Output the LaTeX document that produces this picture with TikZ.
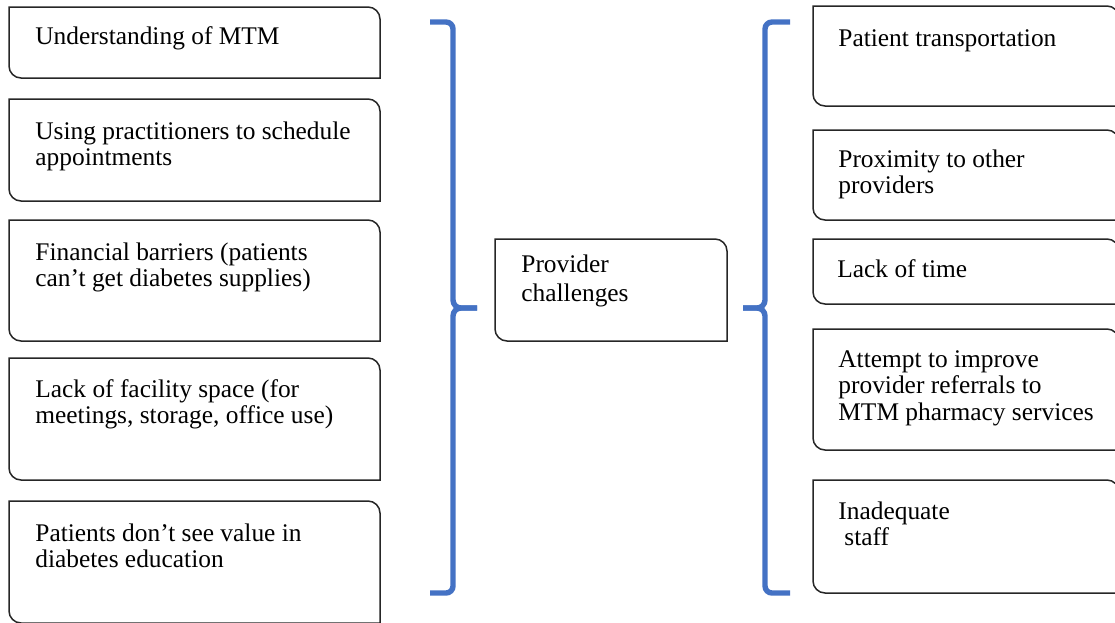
\documentclass[tikz,border=0pt]{standalone}
\usepackage{fontspec}
\setmainfont{Liberation Serif}
\usetikzlibrary{fit,calc}
\definecolor{bracecol}{HTML}{4472C4}
\definecolor{linecol}{HTML}{262626}
\tikzset{
  boxline/.style={draw=linecol,line width=0.75pt},
  holder/.style={inner sep=0pt,outer sep=0pt},
  txt/.style={inner sep=0pt,anchor=north west,align=left,
    font=\fontsize{12.7}{13.3}\selectfont,execute at begin node=\strut},
  ctxt/.style={inner sep=0pt,anchor=north west,align=left,
    font=\fontsize{12.7}{14.5}\selectfont,execute at begin node=\strut},
  bracestyle/.style={draw=bracecol,line width=2.7pt}
}
\newcommand\cbox[5]{%
  \node[holder,fit={(#2,#3) (#4,#5)}] (#1) {};
  \draw[boxline] (#1.north west) -- ($(#1.north east)+(-12,0)$)
    .. controls ($(#1.north east)+(-5.4,0)$) and ($(#1.north east)+(0,5.4)$) .. ($(#1.north east)+(0,12)$)
    -- (#1.south east) -- ($(#1.south west)+(12,0)$)
    .. controls ($(#1.south west)+(5.4,0)$) and ($(#1.south west)+(0,-5.4)$) .. ($(#1.south west)+(0,-12)$)
    -- cycle;}
\begin{document}
\begin{tikzpicture}[x=0.5pt,y=-0.5pt]
\clip (0,0) rectangle (1115,622);
% left boxes
\cbox{l1}{9}{7}{380}{78}
\cbox{l2}{9}{99}{380}{201}
\cbox{l3}{9}{220}{380}{341}
\cbox{l4}{9}{358}{380}{480}
\cbox{l5}{9}{501}{380}{623}
\node[txt] (l1t) at (35,25) {Understanding of MTM};
\node[txt] (l2t) at (35,121) {Using practitioners to schedule\\appointments};
\node[txt] (l3t) at (35,242) {Financial barriers (patients\\can’t get diabetes supplies)};
\node[txt] (l4t) at (35,379) {Lack of facility space (for\\meetings, storage, office use)};
\node[txt] (l5t) at (35,523) {Patients don’t see value in\\diabetes education};
% centre
\cbox{c}{495}{239}{727}{341}
\node[ctxt] (ct) at (521,254) {Provider\\challenges};
% right boxes
\cbox{r1}{813}{6}{1119}{106}
\cbox{r2}{813}{130}{1119}{220}
\cbox{r3}{813}{239}{1119}{304}
\cbox{r4}{813}{329}{1119}{450}
\cbox{r5}{813}{480}{1119}{593}
\node[txt] (r1t) at (838,27) {Patient transportation};
\node[txt] (r2t) at (838,149) {Proximity to other\\providers};
\node[txt] (r3t) at (837,258) {Lack of time};
\node[txt] (r4t) at (838,350) {Attempt to improve\\provider referrals to\\MTM pharmacy services};
\node[txt] (r5t) at (838,501) {Inadequate\\\hspace*{3pt}staff};
% braces
\coordinate (lbt) at (430,22);
\coordinate (lbm) at (477,308);
\coordinate (lbb) at (430,593);
\draw[bracestyle] (lbt) -- (446,22) to[out=0,in=90] (453,29) -- (453,300) to[out=-90,in=180] (461,308) -- (lbm);
\draw[bracestyle] (lbm) -- (461,308) to[out=180,in=90] (453,316) -- (453,586) to[out=-90,in=0] (446,593) -- (lbb);
\coordinate (rbt) at (790,22);
\coordinate (rbm) at (743,308);
\coordinate (rbb) at (790,593);
\draw[bracestyle] (rbt) -- (772,22) to[out=180,in=90] (765,29) -- (765,300) to[out=-90,in=0] (757,308) -- (rbm);
\draw[bracestyle] (rbm) -- (757,308) to[out=0,in=90] (765,316) -- (765,586) to[out=-90,in=180] (772,593) -- (rbb);
\end{tikzpicture}
\end{document}
